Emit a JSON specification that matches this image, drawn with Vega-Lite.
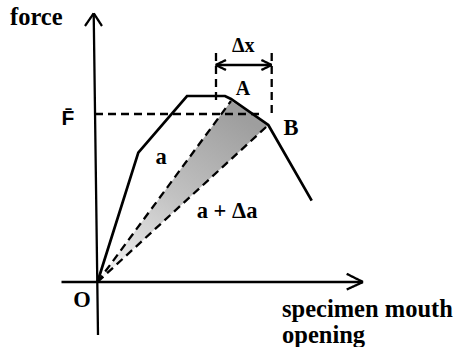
{
  "$schema": "https://vega.github.io/schema/vega-lite/v6.json",
  "width": 458,
  "height": 347,
  "padding": 0,
  "autosize": {"type": "none"},
  "background": "white",
  "config": {"view": {"stroke": null}},
  "encoding": {
    "x": {"type": "quantitative", "scale": {"domain": [-97.5, 360.5], "nice": false, "zero": false}, "axis": null},
    "y": {"type": "quantitative", "scale": {"domain": [-65, 282], "nice": false, "zero": false}, "axis": null}
  },
  "layer": [
    {
      "description": "shaded crack-growth triangle O-A-B",
      "data": {"values": [
        {"x": 0, "y": 0, "y2": 0},
        {"x": 133.5, "y": 181, "y2": 122.7},
        {"x": 170.8, "y": 157, "y2": 157}
      ]},
      "mark": {
        "type": "area",
        "color": {
          "gradient": "linear",
          "x1": 0.7, "y1": 0, "x2": 0.1, "y2": 1,
          "stops": [
            {"offset": 0, "color": "#9e9e9e"},
            {"offset": 0.5, "color": "#c2c2c2"},
            {"offset": 1, "color": "#f2f2f2"}
          ]
        }
      },
      "encoding": {
        "x": {"field": "x"},
        "y": {"field": "y"},
        "y2": {"field": "y2"}
      }
    },
    {
      "description": "axes, arrowheads, compliance lines and guides",
      "data": {"values": [
        {"x": -3.8, "y": 268.7, "x2": 0.5, "y2": -53, "style": "solid"},
        {"x": -3.8, "y": 268.7, "x2": -12.5, "y2": 256, "style": "solid"},
        {"x": -3.8, "y": 268.7, "x2": 4.5, "y2": 256, "style": "solid"},
        {"x": -36, "y": 0, "x2": 265.5, "y2": 0, "style": "solid"},
        {"x": 265.5, "y": 0, "x2": 249.2, "y2": 8.2, "style": "solid"},
        {"x": 265.5, "y": 0, "x2": 249.2, "y2": -7.5, "style": "solid"},
        {"x": 118.2, "y": 217, "x2": 174.2, "y2": 217, "style": "solid"},
        {"x": 118.2, "y": 217, "x2": 128.5, "y2": 222, "style": "solid"},
        {"x": 118.2, "y": 217, "x2": 128.5, "y2": 212, "style": "solid"},
        {"x": 174.2, "y": 217, "x2": 163.9, "y2": 222, "style": "solid"},
        {"x": 174.2, "y": 217, "x2": 163.9, "y2": 212, "style": "solid"},
        {"x": 0, "y": 0, "x2": 133.5, "y2": 181, "style": "dash"},
        {"x": 0, "y": 0, "x2": 170.8, "y2": 157, "style": "dash"},
        {"x": -2.5, "y": 168, "x2": 166.5, "y2": 168, "style": "dash"},
        {"x": 118.5, "y": 229, "x2": 118.5, "y2": 177, "style": "dash"},
        {"x": 174.2, "y": 229, "x2": 174.2, "y2": 169, "style": "dash"}
      ]},
      "mark": {"type": "rule", "color": "black", "strokeWidth": 2.3, "strokeCap": "butt"},
      "encoding": {
        "x": {"field": "x"},
        "y": {"field": "y"},
        "x2": {"field": "x2"},
        "y2": {"field": "y2"},
        "strokeDash": {
          "field": "style", "type": "nominal", "legend": null,
          "scale": {"domain": ["solid", "dash"], "range": [[1, 0], [8, 5]]}
        }
      }
    },
    {
      "description": "force vs. mouth-opening curve",
      "data": {"values": [
        {"i": 0, "x": 0, "y": 0},
        {"i": 1, "x": 40.8, "y": 129.3},
        {"i": 2, "x": 89.5, "y": 186},
        {"i": 3, "x": 127.5, "y": 186},
        {"i": 4, "x": 133.5, "y": 183},
        {"i": 5, "x": 170.8, "y": 157},
        {"i": 6, "x": 214.2, "y": 81.3}
      ]},
      "mark": {"type": "line", "color": "black", "strokeWidth": 2.7, "strokeJoin": "miter"},
      "encoding": {
        "x": {"field": "x"},
        "y": {"field": "y"},
        "order": {"field": "i"}
      }
    },
    {
      "description": "axis titles",
      "data": {"values": [
        {"x": -87.5, "y": 257, "label": "force"},
        {"x": 184.5, "y": -34.7, "label": "specimen mouth"},
        {"x": 184.5, "y": -61.3, "label": "opening"}
      ]},
      "mark": {"type": "text", "font": "Liberation Serif", "fontWeight": "bold", "fontSize": 24.5, "align": "left", "baseline": "alphabetic", "color": "black"},
      "encoding": {"x": {"field": "x"}, "y": {"field": "y"}, "text": {"field": "label"}}
    },
    {
      "description": "point and crack-length labels",
      "data": {"values": [
        {"x": -15.5, "y": -25, "label": "O"},
        {"x": 63.5, "y": 118, "label": "a"},
        {"x": 193.5, "y": 147, "label": "B"}
      ]},
      "mark": {"type": "text", "font": "Liberation Serif", "fontWeight": "bold", "fontSize": 22.5, "align": "center", "baseline": "alphabetic", "color": "black"},
      "encoding": {"x": {"field": "x"}, "y": {"field": "y"}, "text": {"field": "label"}}
    },
    {
      "data": {"values": [
        {"x": 145.5, "y": 187.5, "label": "A"},
        {"x": 145.8, "y": 230, "label": "Δx"}
      ]},
      "mark": {"type": "text", "font": "Liberation Serif", "fontWeight": "bold", "fontSize": 20, "align": "center", "baseline": "alphabetic", "color": "black"},
      "encoding": {"x": {"field": "x"}, "y": {"field": "y"}, "text": {"field": "label"}}
    },
    {
      "data": {"values": [
        {"x": 99.2, "y": 63.7, "label": "a + Δa"}
      ]},
      "mark": {"type": "text", "font": "Liberation Serif", "fontWeight": "bold", "fontSize": 22.5, "align": "left", "baseline": "alphabetic", "color": "black"},
      "encoding": {"x": {"field": "x"}, "y": {"field": "y"}, "text": {"field": "label"}}
    },
    {
      "description": "mean force level",
      "data": {"values": [
        {"x": -29.5, "y": 157, "label": "F̄"}
      ]},
      "mark": {"type": "text", "font": "Liberation Sans", "fontWeight": "bold", "fontSize": 21, "align": "center", "baseline": "alphabetic", "color": "black"},
      "encoding": {"x": {"field": "x"}, "y": {"field": "y"}, "text": {"field": "label"}}
    }
  ]
}
